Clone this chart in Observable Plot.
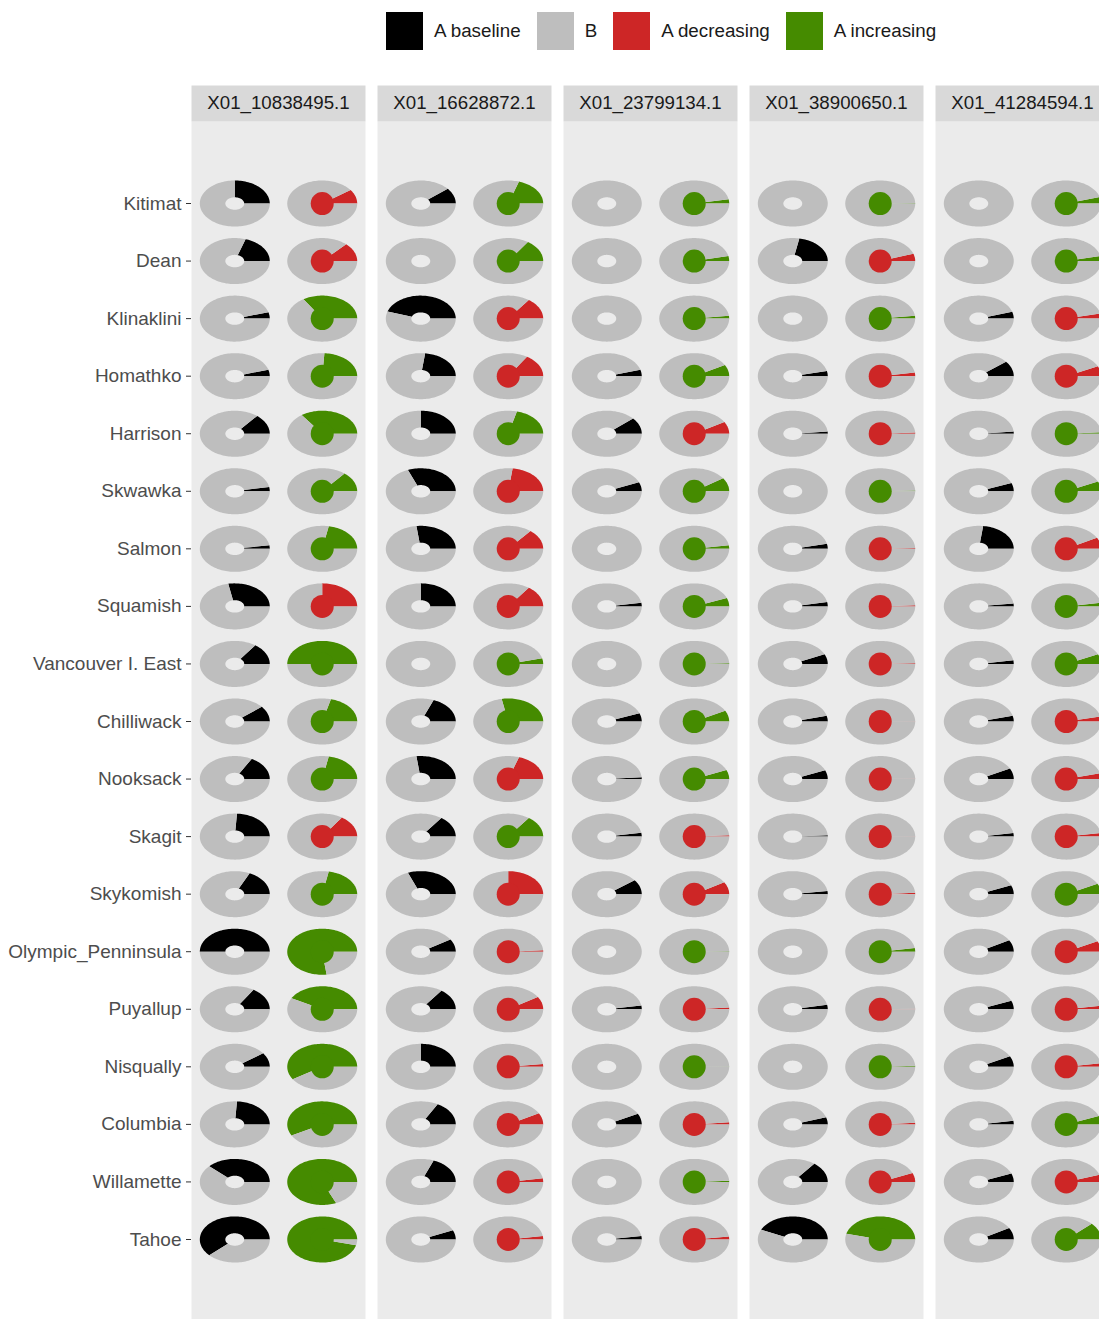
<!DOCTYPE html>
<html>
<head>
<meta charset="utf-8">
<script src="https://cdn.jsdelivr.net/npm/d3@7"></script>
<script src="https://cdn.jsdelivr.net/npm/@observablehq/plot@0.6"></script>
<style>
  html, body { margin: 0; padding: 0; background: #fff; overflow: hidden; width: 1099px; height: 1319px; }
  #legend { position: absolute; left: 386px; top: 12px; }
  #chart { position: absolute; left: 0; top: 68px; }
  #legend .key-swatches { font: 18.8px "Liberation Sans", Arial, sans-serif !important; color: #1a1a1a !important; margin: 0 !important; }
  #legend .key-swatch > svg { margin-right: 11px !important; }
  #legend .key-swatch { margin-right: 16px !important; }
</style>
</head>
<body>
<div id="legend"></div>
<div id="chart"></div>
<script>
// Facet columns (loci) and rows (rivers)
const genes = ["X01_10838495.1", "X01_16628872.1", "X01_23799134.1", "X01_38900650.1", "X01_41284594.1"];
const rivers = ["Kitimat", "Dean", "Klinaklini", "Homathko", "Harrison", "Skwawka", "Salmon", "Squamish",
  "Vancouver I. East", "Chilliwack", "Nooksack", "Skagit", "Skykomish", "Olympic_Penninsula",
  "Puyallup", "Nisqually", "Columbia", "Willamette", "Tahoe"];

// Baseline frequency of allele A, one value per river
const baseline10838495 = [0.25, 0.20, 0.045, 0.045, 0.14, 0.03, 0.025, 0.28, 0.15, 0.11, 0.17, 0.24, 0.18, 0.50, 0.16, 0.10, 0.24, 0.38, 0.62];
const baseline16628872 = [0.11, 0, 0.45, 0.23, 0.25, 0.31, 0.27, 0.25, 0, 0.19, 0.27, 0.15, 0.31, 0.09, 0.15, 0.25, 0.17, 0.19, 0.065];
const baseline23799134 = [0, 0, 0, 0.045, 0.115, 0.065, 0, 0.025, 0, 0.058, 0.013, 0.027, 0.104, 0, 0.027, 0, 0.076, 0, 0.025];
const baseline38900650 = [0, 0.22, 0, 0.036, 0.015, 0, 0.035, 0.03, 0.07, 0.04, 0.063, 0.01, 0.022, 0, 0.032, 0, 0.05, 0.145, 0.43];
const baseline41284594 = [0, 0, 0.048, 0.108, 0.015, 0.058, 0.23, 0.02, 0.025, 0.04, 0.075, 0.025, 0.063, 0.083, 0.06, 0.075, 0.025, 0.06, 0.083];

// Current frequency of allele A
const current10838495 = [0.10, 0.13, 0.34, 0.24, 0.35, 0.14, 0.22, 0.25, 0.50, 0.21, 0.22, 0.155, 0.22, 0.77, 0.42, 0.59, 0.58, 0.815, 0.96];
const current16628872 = [0.20, 0.155, 0.15, 0.16, 0.21, 0.23, 0.14, 0.15, 0.04, 0.28, 0.20, 0.15, 0.25, 0.01, 0.09, 0.02, 0.08, 0.025, 0.025];
const current23799134 = [0.03, 0.035, 0.02, 0.08, 0.085, 0.096, 0.025, 0.06, 0.005, 0.077, 0.065, 0.01, 0.086, 0.003, 0.012, 0.003, 0.015, 0.008, 0.02];
const current38900650 = [0.003, 0.052, 0.02, 0.025, 0.008, 0.005, 0.005, 0.008, 0.005, 0.002, 0.002, 0.002, 0.01, 0.026, 0.003, 0.008, 0.012, 0.063, 0.46];
const current41284594 = [0.045, 0.035, 0.035, 0.07, 0.01, 0.07, 0.08, 0.025, 0.07, 0.035, 0.04, 0.025, 0.074, 0.075, 0.025, 0.025, 0.06, 0.05, 0.12];

// Direction of change of allele A ("d" decreasing, "i" increasing)
const trend10838495 = ["d","d","i","i","i","i","i","d","i","i","i","d","i","i","i","i","i","i","i"];
const trend16628872 = ["i","i","d","d","i","d","d","d","i","i","d","i","d","d","d","d","d","d","d"];
const trend23799134 = ["i","i","i","i","d","i","i","i","i","i","i","d","d","i","d","i","d","i","d"];
const trend38900650 = ["i","d","i","d","d","i","d","d","d","d","d","d","d","i","d","i","d","d","i"];
const trend41284594 = ["i","i","d","d","i","i","d","i","i","d","d","d","i","d","d","d","i","d","i"];

// Legend categories and their colours
const keys = ["A baseline", "B", "A decreasing", "A increasing"];
const keyColors = ["#000000", "#bebebe", "#cd2626", "#458b00"];
const trendKey = {d: "A decreasing", i: "A increasing"};

// Two glyphs per cell: the baseline donut and the current pie
const slots = ["baseline", "current"];

const baselineA = [baseline10838495, baseline16628872, baseline23799134, baseline38900650, baseline41284594];
const currentA = [current10838495, current16628872, current23799134, current38900650, current41284594];
const trends = [trend10838495, trend16628872, trend23799134, trend38900650, trend41284594];

const TAU = 2 * Math.PI;
const R = 0.4;          // glyph radius in data units
const HOLE = 0.27 * R;  // donut hole radius

function arc(cx, cy, r, a0, a1) {
  const n = Math.max(2, Math.ceil(Math.abs(a1 - a0) / TAU * 144));
  return d3.range(n + 1).map(k => {
    const a = a0 + (a1 - a0) * k / n;
    return [cx + r * Math.cos(a), cy - r * Math.sin(a)];
  });
}

// Polygon vertices for each wedge, in data coordinates
const sectors = [];
function push(gene, id, key, pts) {
  for (const [x, y] of pts) sectors.push({gene, id, key, x, y});
}
function annulus(gene, id, key, cx, cy, a0, a1) {
  if (a1 - a0 <= 0) return;
  push(gene, id, key, [...arc(cx, cy, R, a0, a1), ...arc(cx, cy, HOLE, a1, a0)]);
}
function pie(gene, id, key, cx, cy, a0, a1) {
  if (a1 - a0 <= 0) return;
  push(gene, id, key, [[cx, cy], ...arc(cx, cy, R, a0, a1)]);
}

const centres = [];
genes.forEach((gene, g) => {
  rivers.forEach((river, r) => {
    const row = r + 1;
    const xb = slots.indexOf("baseline") + 1;
    const xc = slots.indexOf("current") + 1;
    const b = baselineA[g][r], c = currentA[g][r];
    const key = trendKey[trends[g][r]];
    annulus(gene, `${g}-${r}-a`, "A baseline", xb, row, 0, TAU * b);
    annulus(gene, `${g}-${r}-b`, "B", xb, row, TAU * b, TAU);
    pie(gene, `${g}-${r}-c`, key, xc, row, 0, TAU * c);
    pie(gene, `${g}-${r}-d`, "B", xc, row, TAU * c, TAU);
    centres.push({gene, river, row, x: xc, key});
  });
});

const FONT = '"Liberation Sans", Arial, Helvetica, sans-serif';
const W = 1110, H = 1253, MT = 53;
const PANEL_H = H - MT;

const chart = Plot.plot({
  width: W,
  height: H,
  marginLeft: 191,
  marginRight: 0,
  marginTop: MT,
  marginBottom: 0,
  style: {fontFamily: FONT, fontSize: "18.8px", maxWidth: "none", background: "transparent", overflow: "visible"},
  fx: {domain: genes, paddingInner: 0.062, paddingOuter: 0, axis: null},
  x: {domain: [0.505, 2.495], axis: null},
  y: {domain: [-0.425, 20.425], reverse: true, axis: null},
  color: {domain: keys, range: keyColors},
  marks: [
    Plot.frame({fill: "#ebebeb", stroke: "none"}),
    Plot.frame({fill: "#d9d9d9", stroke: "none", insetTop: -36, insetBottom: PANEL_H}),
    Plot.line(sectors, {fx: "gene", x: "x", y: "y", z: "id", fill: "key", stroke: "none"}),
    Plot.dot(centres, {fx: "gene", x: "x", y: "row", r: 11.5, fill: "key", stroke: "none"}),
    Plot.text(genes, {fx: d => d, frameAnchor: "top", lineAnchor: "middle", dy: -18, text: d => d, fill: "#1a1a1a", fontSize: 18.7}),
    Plot.axisY(d3.range(1, rivers.length + 1), {
      tickFormat: i => rivers[i - 1],
      tickSize: 5,
      tickPadding: 5,
      stroke: "#333333",
      fill: "#4d4d4d",
      fontSize: 19,
      label: null
    })
  ]
});

document.getElementById("chart").append(chart);

const legend = chart.legend("color", {className: "key", swatchWidth: 37, swatchHeight: 38});
document.getElementById("legend").append(legend);
</script>
</body>
</html>
